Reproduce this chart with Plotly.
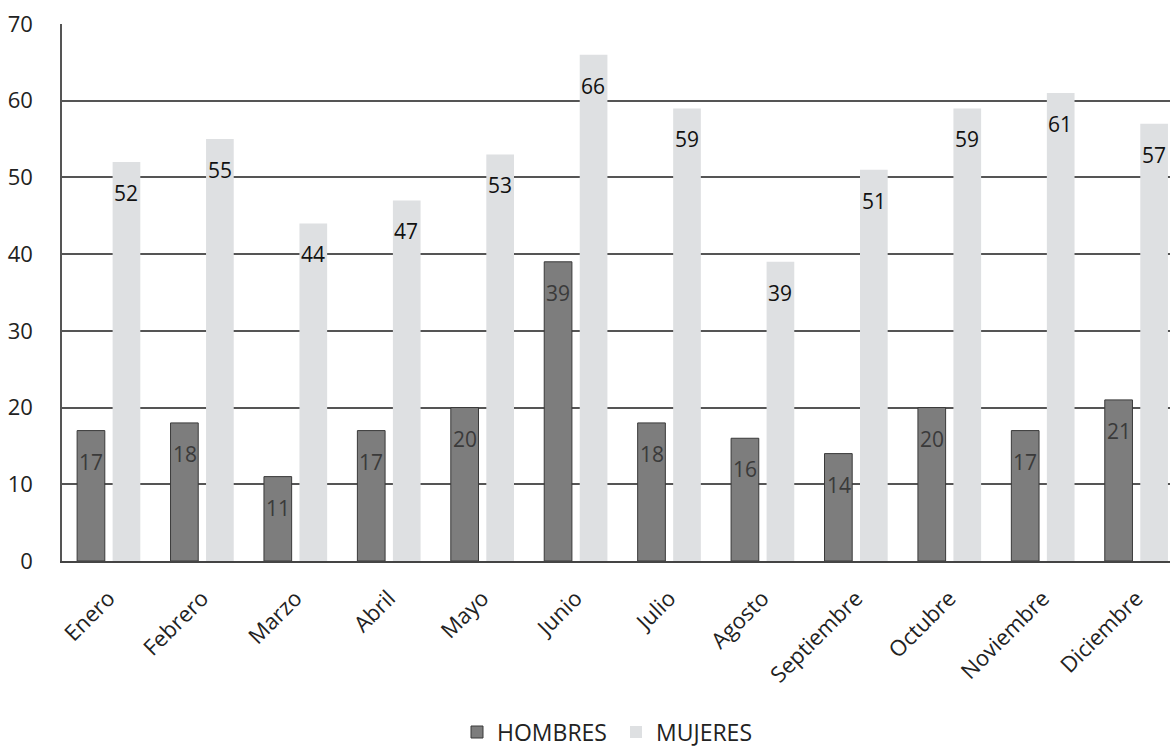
import plotly.graph_objects as go

# meses y valores
meses = ["Enero", "Febrero", "Marzo", "Abril", "Mayo", "Junio", "Julio",
         "Agosto", "Septiembre", "Octubre", "Noviembre", "Diciembre"]
hombres = [17, 18, 11, 17, 20, 39, 18, 16, 14, 20, 17, 21]
mujeres = [52, 55, 44, 47, 53, 66, 59, 39, 51, 59, 61, 57]

FONT = "Open Sans"
GRIS_OSCURO = "#7d7d7d"
GRIS_CLARO = "#dee0e2"

fig = go.Figure()
fig.add_trace(go.Bar(x=meses, y=hombres, name="HOMBRES",
                     marker=dict(color=GRIS_OSCURO, line=dict(color="#3a3a3a", width=1))))
fig.add_trace(go.Bar(x=meses, y=mujeres, name="MUJERES",
                     marker=dict(color=GRIS_CLARO, line=dict(width=0))))

# etiquetas de datos, un poco por debajo del extremo de cada barra
anotaciones = []
for i, m in enumerate(meses):
    anotaciones.append(dict(x=m, y=hombres[i], text=str(hombres[i]), showarrow=False,
                            xshift=-17.5, yshift=-31, font=dict(size=21, color="#3a3a3a", family=FONT)))
    anotaciones.append(dict(x=m, y=mujeres[i], text=str(mujeres[i]), showarrow=False,
                            xshift=17.5, yshift=-31, font=dict(size=21, color="#111111", family=FONT)))

fig.update_layout(
    width=1170, height=747,
    margin=dict(l=62, r=0, t=24, b=186),
    paper_bgcolor="white", plot_bgcolor="white",
    barmode="group", bargap=0.24, bargroupgap=0.22,
    font=dict(family=FONT, size=20, color="#222222"),
    annotations=anotaciones,
    showlegend=True,
    legend=dict(orientation="h", x=0.5, xanchor="center",
                yref="container", y=0.02, yanchor="middle",
                entrywidth=114, entrywidthmode="pixels",
                font=dict(size=23, color="#222222"), itemwidth=30),
    xaxis=dict(range=[-0.5, 11.36], tickangle=-45, showgrid=False, automargin=False,
               showline=True, linecolor="#444444", linewidth=1.5,
               ticklabelstandoff=14,
               tickfont=dict(size=22, color="#222222")),
    yaxis=dict(range=[0, 70], dtick=10, showgrid=True, gridcolor="#555555", gridwidth=1.5,
               showline=True, linecolor="#555555", linewidth=1.5, zeroline=False,
               automargin=False, ticks="", ticklabelstandoff=23,
               tickfont=dict(size=22, color="#222222")),
)

# la página trae 8px de margen por defecto; se quita para que el gráfico ocupe la ventana
fig.write_html("out.html", config={"displayModeBar": False},
               post_script="document.body.style.margin='0';")
